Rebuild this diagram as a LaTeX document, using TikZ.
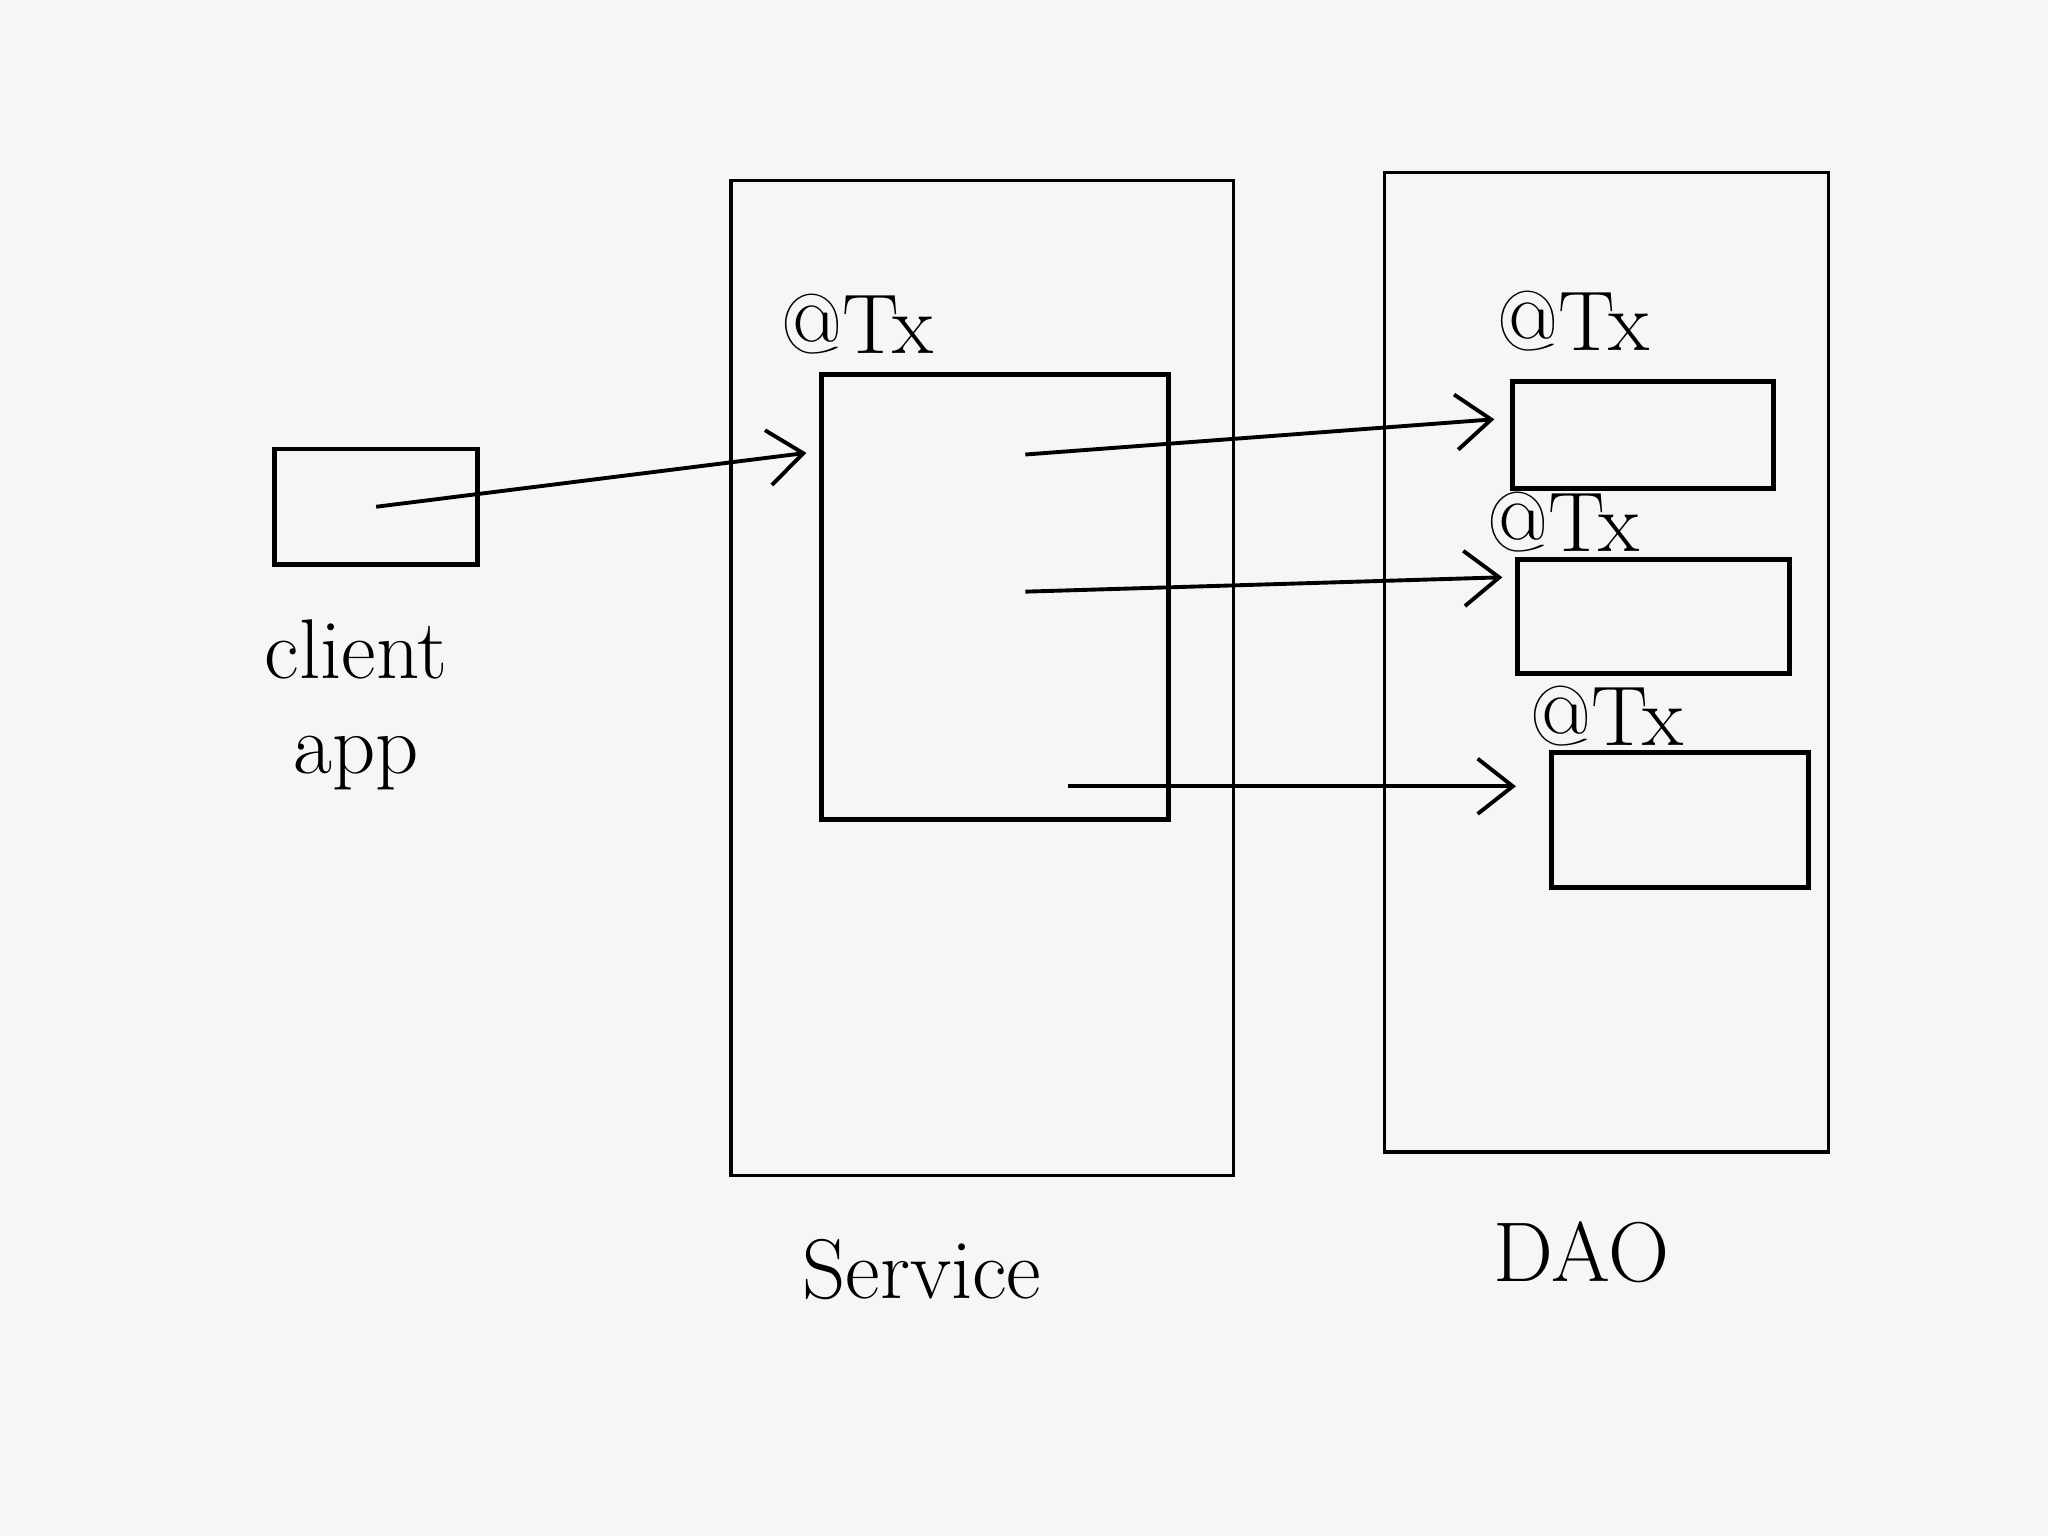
\documentclass[tikz,border=0pt]{standalone}
\usepackage{tikz}
\usetikzlibrary{arrows.meta,positioning,calc}
\definecolor{paper}{RGB}{246,246,246}

\begin{document}
\begin{tikzpicture}[x=0.013cm, y=-0.013cm,
  handtext/.style={font=\fontsize{24}{27}\selectfont},
  layerbox/.style={draw, line width=0.9pt, inner sep=0pt},
  txbox/.style={draw, line width=1.4pt, inner sep=0pt},
  callarrow/.style={line width=1.1pt, -{Straight Barb[length=3.5mm, width=5.5mm, line width=1.1pt]}}]
\useasboundingbox[fill=paper] (0,0) rectangle (1568,1176);

% client
\node[txbox, minimum width=2.02cm, minimum height=1.15cm] (client) at (288,388) {};
\node[handtext, align=center, below=0.4cm of client, xshift=-0.2cm] (clientlbl) {client\\app};

% service layer
\node[layerbox, minimum width=5.0cm, minimum height=9.9cm] (svc) at (752,519) {};
\node[txbox, minimum width=3.45cm, minimum height=4.43cm] (svcTx) at (762,457) {};
\node[handtext, above right=0.05cm and -0.5cm of svcTx.north west] (svcTxlbl) {@Tx};
\node[handtext, below=0.5cm of svc, xshift=-0.6cm] (svclbl) {Service};

% dao layer
\node[layerbox, minimum width=4.42cm, minimum height=9.75cm] (dao) at (1230,507) {};
\node[txbox, minimum width=2.6cm, minimum height=1.07cm] (daoA) at (1258,333) {};
\node[txbox, minimum width=2.7cm, minimum height=1.14cm] (daoB) at (1266,472) {};
\node[txbox, minimum width=2.56cm, minimum height=1.34cm] (daoC) at (1286,628) {};
\node[handtext, above right=0.15cm and -0.25cm of daoA.north west] (daoAlbl) {@Tx};
\node[handtext, above right=-0.08cm and -0.4cm of daoB.north west] (daoBlbl) {@Tx};
\node[handtext, above right=-0.08cm and -0.3cm of daoC.north west] (daoClbl) {@Tx};
\node[handtext, below=0.55cm of dao, xshift=-0.25cm] (daolbl) {DAO};

% calls
\coordinate (callA) at (785,348);
\coordinate (callB) at (785,453);
\coordinate (callC) at (818,602);
\draw[callarrow] (client.center) -- ($(svcTx.north west)!.18!(svcTx.south west)+(-10,0)$);
\draw[callarrow] (callA) -- ($(daoA.west)+(-12,-12)$);
\draw[callarrow] (callB) -- ($(daoB.west)+(-10,-30)$);
\draw[callarrow] (callC) -- ($(daoC.west)+(-25,-26)$);
\end{tikzpicture}
\end{document}
